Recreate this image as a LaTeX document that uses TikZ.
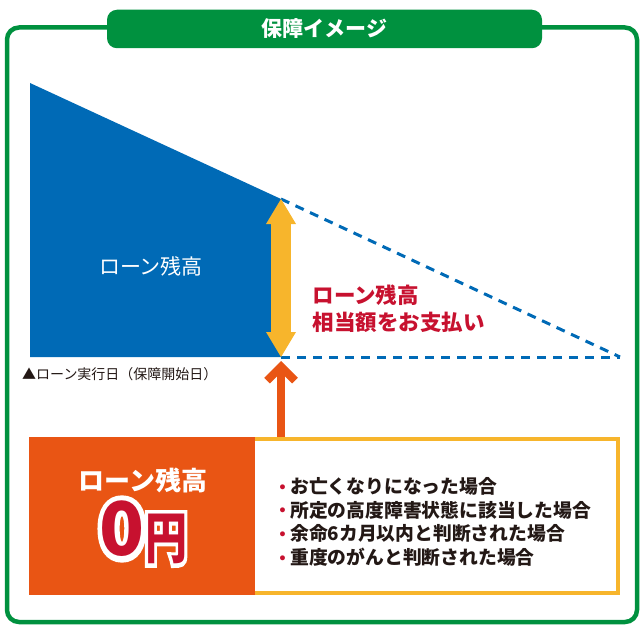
\documentclass[tikz,border=0pt]{standalone}
\usepackage{fontspec}
\setmainfont{Noto Sans CJK JP}
\newfontfamily\dotfont{DejaVu Sans}
\newfontfamily\fatfont{Noto Sans CJK JP Bold}[FakeBold=16]
\usepackage{tikz}
\usetikzlibrary{arrows.meta,calc}

\definecolor{kgreen}{HTML}{00913F}
\definecolor{kblue}{HTML}{006AB6}
\definecolor{kyellow}{HTML}{F7B52C}
\definecolor{korange}{HTML}{E95514}
\definecolor{kred}{HTML}{C7112F}
\definecolor{kink}{HTML}{231815}

\newcommand{\fsz}[2]{\fontsize{#1}{#2}\selectfont}
\newcommand{\reddot}{\textcolor{kred}{\raisebox{1.5pt}{\dotfont\fsz{14}{14}•}}\,}

\begin{document}
\begin{tikzpicture}[x=1pt,y=-1pt,
    frame/.style={draw=kgreen, line width=4.5pt, rounded corners=12pt},
    tab/.style={fill=kgreen, rounded corners=10pt, minimum width=435pt,
      minimum height=38.5pt, inner sep=0pt, text=white, font=\fsz{21}{21}\bfseries},
    dashline/.style={draw=kblue, line width=3pt, dash pattern=on 9pt off 7pt},
    yarrow/.style={draw=kyellow, line width=20pt,
      {Triangle[length=25pt,width=30pt,line width=0pt]}-{Triangle[length=25pt,width=30pt,line width=0pt]}},
    oarrow/.style={draw=korange, line width=8pt, -{Straight Barb[length=14pt,width=28pt]}},
    obox/.style={fill=korange, minimum width=226pt, minimum height=158pt, inner sep=0pt},
    yframe/.style={draw=kyellow, line width=4pt},
    halo/.style={text=white, inner sep=0pt},
    bigred/.style={text=kred, inner sep=0pt}]
  \useasboundingbox (0,0) rectangle (641,626);

  % frame and title tab
  \draw[frame] (7,27.5) rectangle (637,622);
  \node[tab] (title) at (324.5,29) {保障イメージ};

  % loan balance
  \coordinate (top) at (30,83);
  \coordinate (apex) at (281,199);
  \coordinate (base) at (281,357);
  \coordinate (origin) at (30,357);
  \coordinate (endpt) at (620,357);
  \fill[kblue] (top) -- (apex) -- (base) -- (origin) -- cycle;
  \draw[dashline] (apex) -- (endpt);
  \draw[dashline] (base) -- (endpt);
  \draw[yarrow] (apex) -- (base);

  \node[text=white, font=\fsz{21}{21}] (remain) at (151,266) {ローン残高};
  \node[text=kred, font=\fsz{21.5}{27}\bfseries, align=left, anchor=west] (pay) at (309,309)
    {ローン残高\\相当額をお支払い};
  \node[text=kink, font=\fsz{14}{14}, anchor=west, inner sep=0pt] (start) at (22,374)
    {▲ローン実行日（保障開始日）};

  % bottom boxes
  \draw[yframe] (253,439) rectangle (618,593);
  \node[obox] (zero) at (142,516) {};
  \node[text=white, font=\fsz{26}{26}\bfseries] (zlabel) at (143,480) {ローン残高};
  \node[halo, font=\fsz{74}{74}\fatfont] (numhalo) at (122,529) {0};
  \node[bigred, font=\fsz{74}{74}\bfseries] (num) at (122,529) {0};
  \node[halo, font=\fsz{56}{56}\fatfont] (yenhalo) at (166,539) {\scalebox{0.75}[1]{円}};
  \node[bigred, font=\fsz{56}{56}\bfseries] (yen) at (166,539) {\scalebox{0.75}[1]{円}};

  \coordinate (otip) at (281,361);
  \draw[oarrow] (zero.north -| base) -- (otip);

  \node[text=kink, font=\fsz{18.8}{23.7}\bfseries, align=left, anchor=west, inner sep=0pt] (cases) at (278,522)
    {\reddot お亡くなりになった場合\\
     \reddot 所定の高度障害状態に該当した場合\\
     \reddot 余命6カ月以内と判断された場合\\
     \reddot 重度のがんと判断された場合};
\end{tikzpicture}
\end{document}
